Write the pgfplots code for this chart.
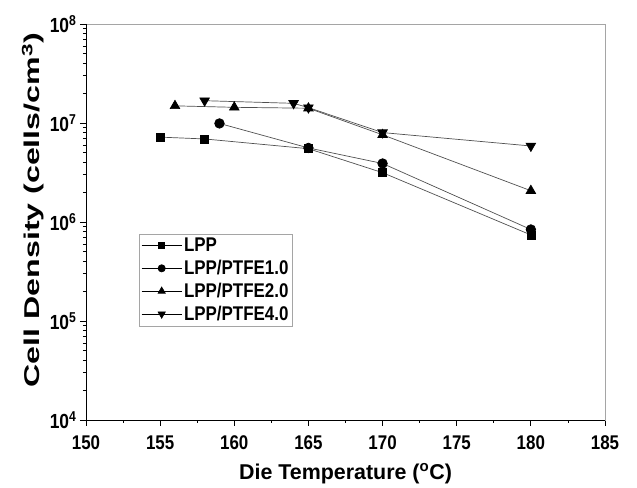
\documentclass[border=0pt]{standalone}
\usepackage{fontspec}
\setmainfont{Liberation Sans}
\usepackage{graphicx}
\usepackage{pgfplots}
\pgfplotsset{compat=1.18}
\usetikzlibrary{calc}
\definecolor{lnc}{RGB}{80,80,80}
\definecolor{frame}{RGB}{165,165,165}
\newcommand{\vs}[1]{\scalebox{1}[1.17]{#1}}

\begin{document}
\begin{tikzpicture}[x=1bp,y=1bp]
\begin{axis}[
  scale only axis, width=519bp, height=396bp,
  ymode=log,
  xmin=150, xmax=185, ymin=1e4, ymax=1e8,
  xtick={150,155,...,185},
  xticklabels={\vs{150},\vs{155},\vs{160},\vs{165},\vs{170},\vs{175},\vs{180},\vs{185}},
  minor x tick num=1,
  ytick={1e4,1e5,1e6,1e7,1e8},
  yticklabels={\vs{10\textsuperscript{4}},\vs{10\textsuperscript{5}},\vs{10\textsuperscript{6}},\vs{10\textsuperscript{7}},\vs{10\textsuperscript{8}}},
  xticklabel style={font=\fontsize{17}{20}\selectfont\bfseries, yshift=-6bp},
  yticklabel style={font=\fontsize{17.5}{20}\selectfont\bfseries},
  tick align=outside, tick pos=left,
  major tick length=6bp, minor tick length=3bp,
  tick style={black, line width=0.8pt},
  axis line style={frame, line width=0.8pt},
  xlabel={Die Temperature (\textsuperscript{o}C)},
  ylabel={\scalebox{1.5}[1]{Cell Density (cells/cm\textsuperscript{3})}},
  label style={font=\fontsize{21.5}{24}\selectfont\bfseries},
  xlabel style={at={(rel axis cs:0.5,-0.136)}, anchor=center},
  ylabel style={at={(rel axis cs:-0.102,0.53)}, anchor=center},
  legend style={at={(rel axis cs:0.102,0.47)}, anchor=north west,
    draw=frame, line width=0.8pt, font=\fontsize{17}{20}\selectfont\bfseries,
    row sep=3bp, inner sep=2bp, nodes={inner sep=2bp}},
  legend cell align=left,
  legend image code/.code={
    \draw[mark repeat=2,mark phase=2] plot coordinates {(0bp,0bp)(20bp,0bp)(40bp,0bp)};},
  legend image post style={black, every mark/.append style={scale=0.75}},
  every axis plot/.append style={lnc, line width=0.7pt,
    mark options={fill=black, draw=black, solid}},
  clip=false,
]
\addplot[mark=square*, mark size=4bp] coordinates {
  (155,7.2e6)(158,6.9e6)(165,5.5e6)(170,3.15e6)(180,7.4e5)};
\addplot[mark=*, mark size=4.8bp] coordinates {
  (159,9.9e6)(165,5.6e6)(170,3.9e6)(180,8.4e5)};
\addplot[mark=triangle*, mark size=5.5bp] coordinates {
  (156,1.49e7)(160,1.44e7)(165,1.41e7)(170,7.6e6)(180,2.07e6)};
\addplot[mark=triangle*, mark size=5.5bp, every mark/.append style={rotate=180}] coordinates {
  (158,1.68e7)(164,1.58e7)(165,1.43e7)(170,8.0e6)(180,5.86e6)};
\legend{\vs{LPP},\vs{LPP/PTFE1.0},\vs{LPP/PTFE2.0},\vs{LPP/PTFE4.0}}
\draw[black, line width=0.8pt] (rel axis cs:0,1) -- (rel axis cs:0,0) -- (rel axis cs:1,0);
\coordinate (bl) at (rel axis cs:0,0);
\coordinate (tr) at (rel axis cs:1,1);
\end{axis}
\path ($(bl)+(-86bp,-67bp)$) rectangle ($(tr)+(32bp,24bp)$);
\end{tikzpicture}
\end{document}
